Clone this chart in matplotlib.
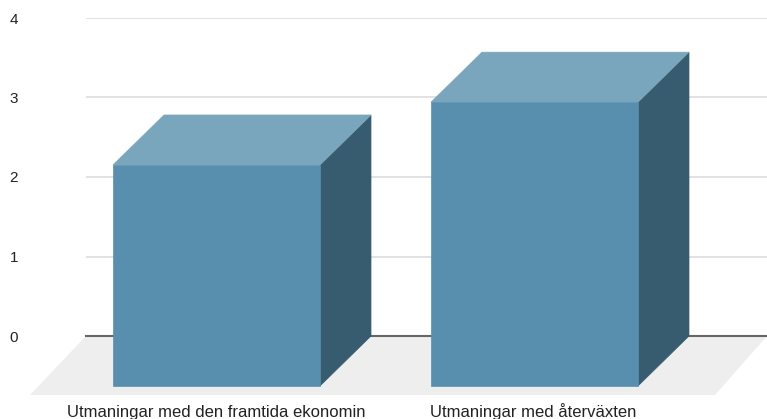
import matplotlib
matplotlib.use("Agg")
import matplotlib.pyplot as plt
from matplotlib.patches import Polygon
from matplotlib.transforms import ScaledTranslation

categories = ["Utmaningar med den framtida ekonomin", "Utmaningar med återväxten"]
values = [2.78, 3.57]
yticks = [0, 1, 2, 3, 4]

plt.rcParams['font.family'] = ['Liberation Sans', 'DejaVu Sans']
W, H = 767, 419
fig = plt.figure(figsize=(W / 100, H / 100), dpi=100, facecolor='white')
ax = fig.add_axes([86 / W, (H - 336) / H, (W - 86) / W, (336 - 18) / H])

PX = 318.0            # pixels per category
PY = 79.5             # pixels per unit
C0 = 216.5
ax.set_xlim((86 - C0) / PX, (767 - C0) / PX)
ax.set_ylim(0, 4)

bar_w = 207 / PX
dx = 51 / PX          # depth in x
dy = 50 / PY          # depth in y

for s in ax.spines.values():
    s.set_visible(False)
ax.set_yticks(yticks)
ax.set_xticks(range(len(categories)))
ax.set_xticklabels(categories)
ax.tick_params(axis='y', length=0, pad=52, labelsize=11, labelcolor='#222222')
ax.tick_params(axis='x', length=0, pad=58, labelsize=12, labelcolor='#222222')
for lab in ax.get_yticklabels():
    lab.set_horizontalalignment('center')
for lab in ax.get_xticklabels():
    lab.set_verticalalignment('baseline')
ax.get_xticklabels()[1].set_transform(
    ax.get_xticklabels()[1].get_transform() + ScaledTranslation(-0.7 / 72, 0, fig.dpi_scale_trans))
ax.grid(axis='y', color='#e2e2e2', lw=1.4)
ax.set_axisbelow(True)
ax.axhline(0, color='#666666', lw=1.5, clip_on=False, zorder=1.5)

# floor
x0, x1 = ax.get_xlim()
fy = -59 / PY
floor = Polygon([(x0, 0), (x1, 0), (x1 - 52 / PX, fy), (x0 - 56 / PX, fy)],
                closed=True, fc='#eeeeee', ec='none', clip_on=False, zorder=1)
ax.add_patch(floor)

for i, v in enumerate(values):
    l, r = i - bar_w / 2, i + bar_w / 2
    top = v - dy
    bot = -dy
    front = [(l, bot), (r, bot), (r, top), (l, top)]
    side = [(r, bot), (r + dx, 0), (r + dx, v), (r, top)]
    lid = [(l, top), (r, top), (r + dx, v), (l + dx, v)]
    ax.add_patch(Polygon(side, closed=True, fc='#385c6f', ec='#385c6f', lw=0.5, clip_on=False, zorder=3))
    ax.add_patch(Polygon(lid, closed=True, fc='#79a6bd', ec='#79a6bd', lw=0.5, clip_on=False, zorder=3))
    ax.add_patch(Polygon(front, closed=True, fc='#588fae', ec='#588fae', lw=0.5, clip_on=False, zorder=4))

fig.savefig("out.png", dpi=100)
